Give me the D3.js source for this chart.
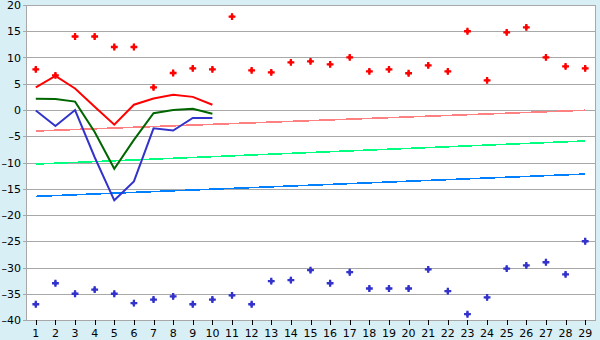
<!DOCTYPE html>
<html><head><meta charset="utf-8">
<script src="https://cdn.jsdelivr.net/npm/d3@7"></script>
<style>
html,body{margin:0;padding:0;background:#d9eff6;}
svg{display:block;}
text{font-family:"DejaVu Sans",sans-serif;font-size:11px;fill:#000;}
</style></head>
<body>
<script>
const categories = d3.range(1, 30).map(String);
const yTicks = [20, 15, 10, 5, 0, -5, -10, -15, -20, -25, -30, -35, -40];

const highPoints = [7.75, 6.6, 14.0, 14.0, 12.0, 12.0, 4.3, 7.05, 7.94, 7.75,
  17.8, 7.56, 7.18, 9.08, 9.27, 8.7, 10.03, 7.37, 7.75, 7.0,
  8.5, 7.37, 15.0, 5.65, 14.8, 15.75, 10.03, 8.3, 7.94];
const lowPoints = [-37.0, -33.0, -35.0, -34.2, -35.0, -36.8, -36.1, -35.5, -37.0, -36.1,
  -35.3, -37.0, -32.6, -32.4, -30.5, -33.0, -30.9, -34.0, -34.0, -34.0,
  -30.35, -34.5, -38.9, -35.7, -30.2, -29.6, -29.0, -31.3, -25.0];

const redLine = [4.3, 6.5, 4.1, 0.6, -2.8, 1.0, 2.2, 2.9, 2.5, 1.0];
const greenLine = [2.15, 2.1, 1.6, -4.2, -11.2, -5.7, -0.6, 0.0, 0.25, -0.7];
const blueLine = [-0.1, -3.05, 0.0, -9.0, -17.2, -13.6, -3.5, -3.9, -1.5, -1.5];

const trendCats = ["1", "29"];
const trendPink = [-4.0, -0.05];
const trendGreen = [-10.3, -5.9];
const trendBlue = [-16.45, -12.2];

const W = 600, H = 340;
const svg = d3.select("body").append("svg").attr("width", W).attr("height", H);

const x = d3.scaleBand().domain(categories).range([26, 595]);
const cx = c => x(c) + x.bandwidth() / 2;
const y = d3.scaleLinear().domain([-40, 20]).range([320, 5]);

// plot background
svg.append("rect").attr("x", 26).attr("y", 5).attr("width", 569).attr("height", 315).attr("fill", "#fff");

// gridlines
svg.append("g").selectAll("line").data(yTicks).join("line")
  .attr("x1", 23).attr("x2", 595)
  .attr("y1", d => Math.round(y(d)) + 0.5).attr("y2", d => Math.round(y(d)) + 0.5)
  .attr("stroke", "#a8a8a8").attr("stroke-width", 1);

// border
svg.append("line").attr("x1", 26.5).attr("x2", 26.5).attr("y1", 5).attr("y2", 321).attr("stroke", "#a8a8a8");
svg.append("line").attr("x1", 595.5).attr("x2", 595.5).attr("y1", 5).attr("y2", 321).attr("stroke", "#a8a8a8");

// y labels
svg.append("g").selectAll("text").data(yTicks).join("text")
  .attr("x", 21).attr("y", d => y(d) + 4).attr("text-anchor", "end")
  .text(d => d < 0 ? "\u2013" + Math.abs(d) : String(d));

// x axis ticks and labels
const xg = svg.append("g");
xg.selectAll("line").data(categories).join("line")
  .attr("x1", d => Math.round(cx(d)) + 0.5).attr("x2", d => Math.round(cx(d)) + 0.5)
  .attr("y1", 320).attr("y2", 325).attr("stroke", "#000");
xg.selectAll("text").data(categories).join("text")
  .attr("x", d => cx(d)).attr("y", 337).attr("text-anchor", "middle").text(d => d);

// trend lines
const trendLine = d3.line().x((d, i) => cx(trendCats[i])).y(d => y(d));
[[trendPink, "#ff8080"], [trendGreen, "#00ff80"], [trendBlue, "#0080ff"]].forEach(([vals, col]) => {
  svg.append("path").attr("d", trendLine(vals)).attr("fill", "none")
    .attr("stroke", col).attr("stroke-width", 1.6).attr("shape-rendering", "crispEdges");
});

// series lines
const sLine = d3.line().x((d, i) => cx(categories[i])).y(d => y(d));
[[redLine, "#ff0000"], [greenLine, "#006600"], [blueLine, "#3333cc"]].forEach(([vals, col]) => {
  svg.append("path").attr("d", sLine(vals)).attr("fill", "none")
    .attr("stroke", col).attr("stroke-width", 2).attr("stroke-linejoin", "miter");
});

// markers: bold cross with a diamond core
const crossM = d3.symbol().type(d3.symbolCross).size(26);
const diamondM = d3.symbol().type(d3.symbolDiamond).size(14);
function drawMarkers(data, col) {
  const g = svg.append("g").selectAll("g").data(data).join("g")
    .attr("transform", (d, i) => `translate(${cx(categories[i])},${y(d)})`);
  g.append("path").attr("d", crossM).attr("fill", col);
  g.append("path").attr("d", diamondM).attr("fill", col);
}
drawMarkers(highPoints, "#ff0000");
drawMarkers(lowPoints, "#3333cc");
</script>
</body></html>
